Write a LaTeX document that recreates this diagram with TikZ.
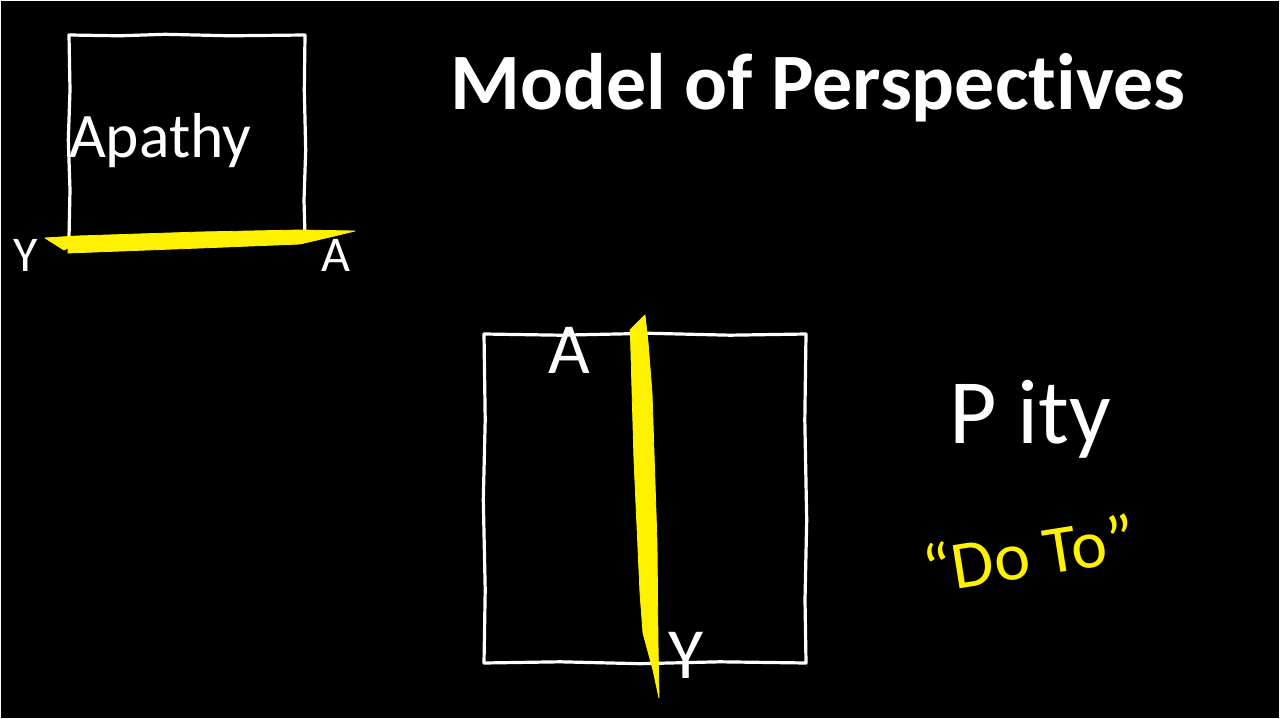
\documentclass[tikz,border=0pt]{standalone}
\usepackage{fontspec}
\setmainfont{Carlito}[Ligatures=NoCommon]
\begin{document}
\begin{tikzpicture}[x=1pt,y=-1pt,
  sketch/.style={draw=white,line width=3.2pt,line join=round,line cap=round},
  hilite/.style={fill=yellow,draw=yellow,line width=0.8pt,line join=round},
  lbl/.style={text=white,inner sep=0pt,anchor=base},
  fs/.style={font=\fontsize{#1}{#1}\selectfont}]
\fill[white] (0,0) rectangle (1281,719);
\fill[black] (1,1) rectangle (1279,718);
\useasboundingbox (0,0) rectangle (1281,719);
% title
\node[lbl,fs=80,anchor=base] (title) at (818,110) {\bfseries Model of Perspectives};
% box 1 (Apathy)
\draw[sketch] (69,35) -- (120,35.8) -- (165,34.3) -- (230,35.8) -- (305,35)
  -- (304.3,90) -- (305.7,150) -- (304,200) -- (305,236)
  -- (200,237) -- (69,238) -- (70,190) -- (68.3,140) -- (70,90) -- cycle;
\node[lbl,fs=63.5,anchor=base west] (apathy) at (69,158) {Apathy};
\fill[hilite] (45,238) -- (77,236) -- (200,232) -- (300,230) -- (355,231)
  -- (330,237) -- (300,244) -- (200,248) -- (68,253) -- (68,248) -- (64,250) -- cycle;
\node[lbl,fs=50] (y1) at (26,271) {Y};
\node[lbl,fs=50] (a1) at (336,271) {A};
% box 2
\draw[sketch] (484,334) -- (560,335.2) -- (650,333.3) -- (730,335.2) -- (806,334)
  -- (804.8,420) -- (806.7,520) -- (805,600) -- (806,663)
  -- (720,661.8) -- (640,663.7) -- (560,661.8) -- (484,663)
  -- (485.2,590) -- (483.3,500) -- (485.2,420) -- cycle;
\fill[hilite] (645,315) -- (648,342) -- (652,393) -- (657,543) -- (658,643) -- (659,698)
  -- (653,670) -- (643,633) -- (640,593) -- (634,460) -- (630.5,337) -- (630,330) -- cycle;
\node[lbl,fs=72] (a2) at (569,373) {A};
\node[lbl,fs=72] (y2) at (686,678) {Y};
% right labels
\node[lbl,fs=92] (pity) at (1030,443) {P ity};
\node[lbl,fs=68,text=yellow,rotate=9] (doto) at (1033,577) {“Do To”};
\end{tikzpicture}
\end{document}
